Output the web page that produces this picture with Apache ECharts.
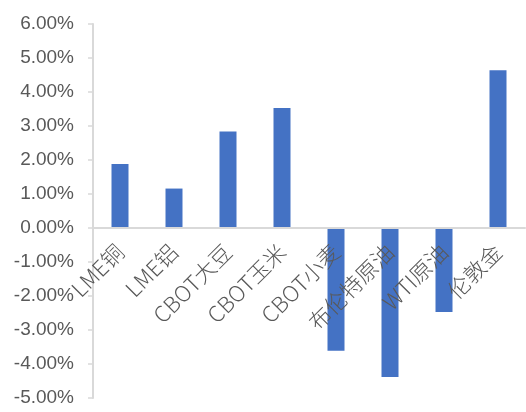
<!DOCTYPE html>
<html><head><meta charset="utf-8">
<script src="https://cdn.jsdelivr.net/npm/echarts@6/dist/echarts.min.js"></script>
<style>html,body{margin:0;padding:0;background:#fff}#c{width:526px;height:412px}</style>
</head><body><div id="c"></div>
<script>
const categories = ['LME铜','LME铝','CBOT大豆','CBOT玉米','CBOT小麦','布伦特原油','WTI原油','伦敦金'];
const values = [1.88, 1.16, 2.84, 3.53, -3.61, -4.38, -2.47, 4.64];
const yMin = -5, yMax = 6, yStep = 1;
const gridTop = 24, gridBottom = 14, H = 412;
const plotH = H - gridTop - gridBottom;
const zeroOffset = -plotH * (0 - yMin) / (yMax - yMin);
const chart = echarts.init(document.getElementById('c'));
chart.setOption({
  animation: false,
  grid: {left: 93, right: 1, top: gridTop, bottom: gridBottom, containLabel: false, outerBoundsMode: 'none'},
  xAxis: {
    type: 'category', data: categories, offset: zeroOffset, z: 10,
    axisLine: {show: true, onZero: false, lineStyle: {color: '#d9d9d9', width: 2}},
    axisTick: {show: false},
    axisLabel: {rotate: 45, interval: 0, color: '#595959', fontSize: 22, margin: 20, fontWeight: 300,
      fontFamily: '"Noto Sans CJK SC", "Liberation Sans", sans-serif'}
  },
  yAxis: {
    type: 'value', min: yMin, max: yMax, interval: yStep,
    splitLine: {show: false},
    axisLine: {show: true, lineStyle: {color: '#d9d9d9', width: 2}},
    axisTick: {show: true, length: 5, lineStyle: {color: '#d9d9d9', width: 1.5}},
    axisLabel: {color: '#595959', fontSize: 19, margin: 19,
      fontFamily: '"Liberation Sans", sans-serif',
      formatter: v => v.toFixed(2) + '%'}
  },
  series: [{
    type: 'bar', data: values, barWidth: 17, z: 2,
    itemStyle: {color: '#4472c4'}
  }]
});
</script></body></html>
